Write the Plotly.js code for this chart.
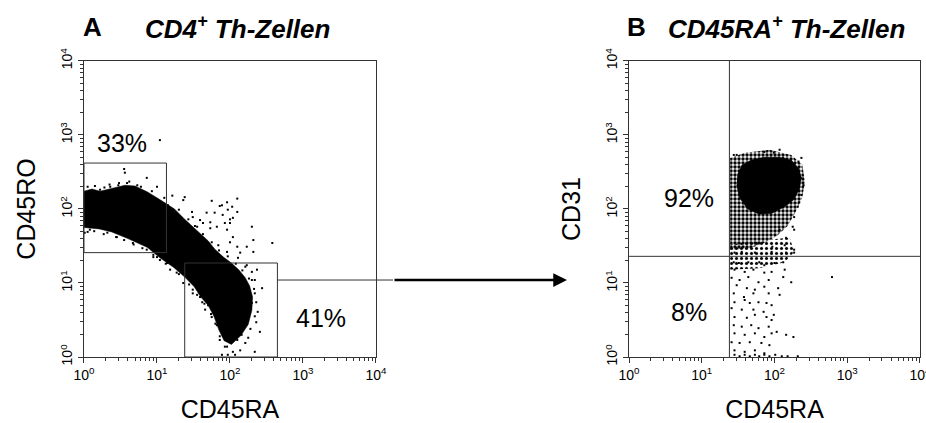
<!DOCTYPE html>
<html>
<head>
<meta charset="utf-8">
<script src="https://cdn.plot.ly/plotly-3.0.1.min.js"></script>
<style>
  html, body { margin: 0; padding: 0; background: #fff; }
  #chart { width: 926px; height: 423px; }
</style>
</head>
<body>
<div id="chart"></div>
<script>
// All event coordinates are in decades: [log10 CD45RA, log10 marker].
const tickDecades = [0, 1, 2, 3, 4];
const tickLabels = tickDecades.map(d => '10<sup>' + d + '</sup>');

// Panel A: CD4+ T helper cells, CD45RA vs CD45RO.
// Outline of the densely packed population (solid black region).
const popA = [
  [0.00,2.24],[0.11,2.27],[0.22,2.24],[0.40,2.28],[0.56,2.32],[0.70,2.31],[0.87,2.23],
  [1.05,2.12],[1.24,2.00],[1.38,1.86],[1.47,1.78],[1.57,1.68],[1.70,1.57],[1.79,1.46],
  [1.91,1.35],[2.02,1.27],[2.12,1.18],[2.21,1.07],[2.27,0.96],[2.31,0.81],[2.30,0.63],
  [2.25,0.44],[2.15,0.29],[2.02,0.17],[1.92,0.22],[1.85,0.36],[1.78,0.55],[1.70,0.70],
  [1.60,0.81],[1.51,0.95],[1.38,1.08],[1.23,1.21],[1.04,1.34],[0.87,1.48],[0.74,1.54],
  [0.60,1.60],[0.38,1.69],[0.21,1.73],[0.00,1.75]
];
// Events lying along the ragged edge of the population.
const edgeA = [
  [0.05,2.30],[0.15,2.31],[0.28,2.29],[0.35,2.33],[0.48,2.35],[0.62,2.37],[0.78,2.30],
  [0.93,2.24],[1.10,2.15],[1.30,1.99],[1.43,1.86],[1.52,1.77],[1.63,1.66],[1.75,1.55],
  [1.85,1.44],[1.97,1.36],[2.08,1.26],[2.17,1.17],[2.26,1.06],[2.33,0.92],[2.36,0.74],
  [2.34,0.55],[2.28,0.38],
  [0.05,1.69],[0.14,1.70],[0.27,1.66],[0.44,1.62],[0.55,1.58],[0.68,1.52],[0.80,1.47],
  [0.95,1.38],[1.12,1.26],[1.30,1.12],[1.44,0.98],[1.55,0.84],[1.65,0.72],[1.74,0.58],
  [1.80,0.45],[1.86,0.28],[1.96,0.14]
];
// Scattered single events around the population.
const eventsA = [
  [1.04,2.93],[0.55,2.54],[0.56,2.49],[0.86,2.42],[0.47,2.32],[0.73,2.32],[1.00,2.30],
  [1.75,2.11],[1.96,2.09],[2.10,2.14],[2.03,2.03],[1.97,1.99],[1.86,2.04],[2.10,1.96],
  [2.04,1.88],[2.00,1.81],[1.90,1.92],[1.36,2.12],[1.48,1.96],[1.59,1.85],[1.68,1.95],
  [2.30,1.76],[2.58,1.54],[2.32,1.58],[2.04,1.62],[1.96,1.72],[1.82,1.76],[1.73,1.82],
  [1.55,1.76],[1.41,1.81],[1.32,1.89],[1.22,1.99],[1.15,2.05],
  [0.04,2.22],[0.08,1.72],[0.18,1.76],[0.32,1.68],[0.45,1.62],[0.67,1.54],[0.86,1.45],
  [1.00,1.35],[0.01,1.68],[0.22,2.26],[0.36,2.30],[0.59,2.35],
  [1.21,2.18],[1.38,2.16],[1.89,2.05],[1.79,1.95],[1.49,1.89],[2.00,1.86],[1.93,1.81],
  [1.73,1.74],[1.63,1.81],[2.00,1.55],[1.84,1.51],[2.10,1.49],[2.23,1.49],[2.32,1.42],
  [1.96,1.42],[2.14,1.41],[1.89,1.35],[2.11,1.34],[2.23,1.24],[2.37,1.18],[2.30,1.04],
  [2.44,0.93],
  [0.95,1.35],[1.04,1.31],[1.14,1.27],[1.18,1.18],[1.27,1.14],[1.36,1.00],[1.49,0.91],
  [1.59,0.81],
  [2.21,1.22],[2.30,1.15],[2.34,1.04],[2.34,0.86],[2.30,0.73],[2.41,0.34],[2.25,0.26],
  [2.21,0.19],[2.14,0.09],[2.04,0.07],[1.97,0.03],[1.93,0.14],[1.86,0.23],[2.10,0.23],
  [2.16,0.30],[2.07,0.03],[1.89,0.03],
  [1.45,1.04],[1.52,0.97],[1.49,0.86],[1.62,0.74],[1.66,0.64],[1.75,0.54],[1.82,0.43],
  [1.41,1.11],[1.59,0.91],[1.70,0.70],[1.77,0.61],[1.90,0.41],[2.34,0.07],[2.38,0.61],
  [2.36,0.47]
];
// Gates: [x0, x1, y0, y1] in decades.
const gateRO = [0.00, 1.13, 1.41, 2.62];
const gateRA = [1.38, 2.65, 0.00, 1.27];
const leadLevel = 1.04;
const gateShare = ['33%', '41%'];

// Panel B: CD45RA+ T helper cells, CD45RA vs CD31.
const coreB = [
  [1.49,2.46],[1.55,2.59],[1.68,2.66],[1.86,2.70],[2.07,2.70],[2.23,2.66],[2.33,2.55],
  [2.37,2.42],[2.34,2.26],[2.26,2.12],[2.14,2.03],[1.96,1.94],[1.79,1.93],[1.63,2.00],
  [1.52,2.15],[1.48,2.32]
];
const haloB = [
  [1.39,2.69],[1.59,2.76],[1.93,2.80],[2.23,2.73],[2.38,2.60],[2.42,2.37],[2.38,2.15],
  [2.29,1.96],[2.18,1.77],[2.04,1.64],[1.86,1.54],[1.66,1.47],[1.39,1.45]
];
const tailB = [
  [1.39,1.52],[1.86,1.58],[2.21,1.61],[2.27,1.42],[2.14,1.28],[1.79,1.20],[1.39,1.18]
];
const eventsB = [
  [1.86,2.77],[1.99,2.76],[2.07,2.80],[2.12,2.69],[2.37,2.69],[2.33,2.64],[1.44,2.73],
  [1.48,2.73],[1.73,2.66],[1.66,2.62],[2.27,2.57],[2.36,2.42],[2.40,2.32],[2.37,2.19],
  [2.34,2.09],[2.32,2.03],[2.27,1.89],[2.25,1.76],[2.27,1.72],[2.16,1.61],[2.27,1.45],
  [2.14,1.51],[1.97,1.49],[2.07,1.72],
  [1.45,1.41],[1.55,1.42],[1.73,1.41],[1.96,1.42],[2.16,1.41],[2.27,1.41],
  [1.44,1.28],[1.51,1.27],[1.64,1.28],[1.79,1.28],[1.86,1.24],[2.00,1.27],[2.12,1.28],
  [1.45,1.18],[1.59,1.15],[1.71,1.18],[1.86,1.14],[1.96,1.15],[2.14,1.18],
  [1.41,1.07],[1.52,1.04],[1.64,1.08],[1.78,1.01],[1.92,1.04],[2.12,1.08],[2.23,1.01],
  [1.48,0.97],[1.62,0.93],[1.73,0.91],[1.86,0.95],[2.05,0.93],
  [1.44,0.86],[1.58,0.81],[1.71,0.86],[1.92,0.86],[2.07,0.84],
  [1.45,0.74],[1.59,0.77],[1.66,0.73],[1.78,0.74],[1.89,0.73],[1.96,0.70],
  [1.41,0.66],[1.55,0.64],[1.71,0.64],[1.85,0.61],[1.99,0.57],
  [1.45,0.54],[1.62,0.53],[1.73,0.57],[1.89,0.54],[1.96,0.50],
  [1.44,0.43],[1.55,0.41],[1.68,0.43],[1.78,0.39],[1.92,0.41],[2.03,0.34],[2.16,0.30],
  [2.26,0.27],
  [1.45,0.32],[1.59,0.30],[1.73,0.32],[1.86,0.27],[1.96,0.32],
  [1.41,0.20],[1.52,0.19],[1.66,0.20],[1.82,0.19],[1.93,0.16],
  [1.45,0.09],[1.59,0.07],[1.73,0.09],[1.86,0.05],
  [1.45,0.03],[1.52,0.01],[1.59,0.03],[1.66,0.01],[1.73,0.03],[1.79,0.01],[1.86,0.03],
  [1.93,0.01],[2.01,0.03],[2.10,0.01],[2.18,0.01],[2.32,0.01],
  [2.79,1.08]
];
// Quadrant markers: [CD45RA cut, CD31 cut] in decades.
const quadB = [1.38, 1.36];
const quadShare = ['92%', '8%'];

const FONT = '"Liberation Sans", Arial, Helvetica, sans-serif';
const INK = '#000';
const FRAME = '#333';
const CLEAR = 'rgba(0,0,0,0)';

const lin = v => Math.pow(10, v);
const xs = pts => pts.map(p => lin(p[0]));
const ys = pts => pts.map(p => lin(p[1]));

// minor tick positions 2..9 within every decade
const minorVals = [];
for (let d = 0; d < 4; d++) for (let k = 2; k <= 9; k++) minorVals.push(k * lin(d));

function region(pts, xa, ya) {
  return {
    type: 'scatter', mode: 'lines', x: xs(pts), y: ys(pts),
    fill: 'toself', fillcolor: INK,
    line: { color: INK, width: 0.5 },
    xaxis: xa, yaxis: ya, hoverinfo: 'skip', showlegend: false
  };
}
// speckled region: a dot texture standing for many overlapping events
function speckle(pts, xa, ya, cell, solidity) {
  return {
    type: 'scatter', mode: 'lines', x: xs(pts), y: ys(pts),
    fill: 'toself', fillcolor: CLEAR,
    fillpattern: { shape: '.', size: cell, solidity: solidity, fgcolor: INK, bgcolor: CLEAR, fillmode: 'replace' },
    line: { color: CLEAR, width: 0 },
    xaxis: xa, yaxis: ya, hoverinfo: 'skip', showlegend: false
  };
}
function dots(pts, xa, ya) {
  return {
    type: 'scatter', mode: 'markers', x: xs(pts), y: ys(pts),
    marker: { symbol: 'square', size: 2, color: INK, line: { width: 0 } },
    xaxis: xa, yaxis: ya, hoverinfo: 'skip', showlegend: false
  };
}

const traces = [
  region(popA, 'x', 'y'),
  dots(edgeA, 'x', 'y'),
  dots(eventsA, 'x', 'y'),
  speckle(tailB, 'x2', 'y2', 5, 0.3),
  speckle(haloB, 'x2', 'y2', 4, 0.58),
  region(coreB, 'x2', 'y2'),
  dots(eventsB, 'x2', 'y2')
];

function logAxis(domain, title, isY, standoff) {
  return {
    type: 'log', range: [0, 4], domain: domain,
    tickmode: 'array', tickvals: tickDecades.map(lin), ticktext: tickLabels,
    ticks: 'outside', ticklen: 5, tickwidth: 1, tickcolor: FRAME,
    minor: { tickmode: 'array', tickvals: minorVals, ticks: 'outside', ticklen: 3,
             tickwidth: 1, tickcolor: FRAME, showgrid: false },
    tickangle: isY ? -90 : 0,
    ticklabeloverflow: 'allow',
    tickfont: { family: FONT, size: 14, color: INK },
    showline: true, linecolor: FRAME, linewidth: 1, mirror: true,
    showgrid: false, zeroline: false, automargin: false, fixedrange: true,
    title: { text: title, font: { family: FONT, size: 25, color: INK }, standoff: standoff }
  };
}

function frameLine(xref, yref, x0, x1, y0, y1) {
  return { type: 'line', xref: xref, yref: yref, x0: x0, x1: x1, y0: y0, y1: y1,
           line: { color: FRAME, width: 1 } };
}
function gateRect(g) {
  return { type: 'rect', xref: 'x', yref: 'y', x0: lin(g[0]), x1: lin(g[1]), y0: lin(g[2]), y1: lin(g[3]),
           line: { color: FRAME, width: 1 } };
}

const yDom = [0.156, 0.856];
const big = { family: FONT, size: 25, color: INK };
const head = { family: FONT, size: 26, color: INK };
const layout = {
  width: 926, height: 423,
  margin: { l: 0, r: 0, t: 0, b: 0 },
  paper_bgcolor: '#fff', plot_bgcolor: '#fff',
  showlegend: false,
  xaxis: Object.assign(logAxis([0.0907, 0.4060], 'CD45RA', false, 26), { anchor: 'y' }),
  yaxis: Object.assign(logAxis(yDom, 'CD45RO', true, 14), { anchor: 'x' }),
  xaxis2: Object.assign(logAxis([0.6793, 0.9935], 'CD45RA', false, 26), { anchor: 'y2' }),
  yaxis2: Object.assign(logAxis(yDom, 'CD31', true, 14), { anchor: 'x2' }),
  shapes: [
    gateRect(gateRO),
    gateRect(gateRA),
    // lead from the CD45RA gate towards panel B
    frameLine('x', 'y', lin(gateRA[1]), lin(4), lin(leadLevel), lin(leadLevel)),
    frameLine('paper', 'paper', 0.4060, 0.4244, 0.338, 0.338),
    // Panel B quadrant lines
    frameLine('x2', 'y2', lin(quadB[0]), lin(quadB[0]), lin(0), lin(4)),
    frameLine('x2', 'y2', lin(0), lin(4), lin(quadB[1]), lin(quadB[1]))
  ],
  annotations: [
    { xref: 'paper', yref: 'paper', x: 0.6123, y: 0.338, ax: -174, ay: 0,
      showarrow: true, arrowhead: 2, arrowsize: 1.1, arrowwidth: 2.5, arrowcolor: INK, text: '' },
    { xref: 'paper', yref: 'paper', x: 0.0875, y: 0.936, xanchor: 'left', yanchor: 'middle',
      showarrow: false, text: '<b>A</b>', font: head },
    { xref: 'paper', yref: 'paper', x: 0.1540, y: 0.936, xanchor: 'left', yanchor: 'middle',
      showarrow: false, text: '<b><i>CD4<sup>+</sup> Th-Zellen</i></b>', font: head },
    { xref: 'paper', yref: 'paper', x: 0.675, y: 0.936, xanchor: 'left', yanchor: 'middle',
      showarrow: false, text: '<b>B</b>', font: head },
    { xref: 'paper', yref: 'paper', x: 0.7190, y: 0.936, xanchor: 'left', yanchor: 'middle',
      showarrow: false, text: '<b><i>CD45RA<sup>+</sup> Th-Zellen</i></b>', font: head },
    // gate and quadrant shares (annotation positions on log axes are in decades)
    { xref: 'x', yref: 'y', x: 0.52, y: 2.89, showarrow: false, text: gateShare[0], font: big },
    { xref: 'x', yref: 'y', x: 3.25, y: 0.53, showarrow: false, text: gateShare[1], font: big },
    { xref: 'x2', yref: 'y2', x: 0.82, y: 2.15, showarrow: false, text: quadShare[0], font: big },
    { xref: 'x2', yref: 'y2', x: 0.82, y: 0.61, showarrow: false, text: quadShare[1], font: big }
  ]
};

Plotly.newPlot('chart', traces, layout, { staticPlot: true, displayModeBar: false });
</script>
</body>
</html>
